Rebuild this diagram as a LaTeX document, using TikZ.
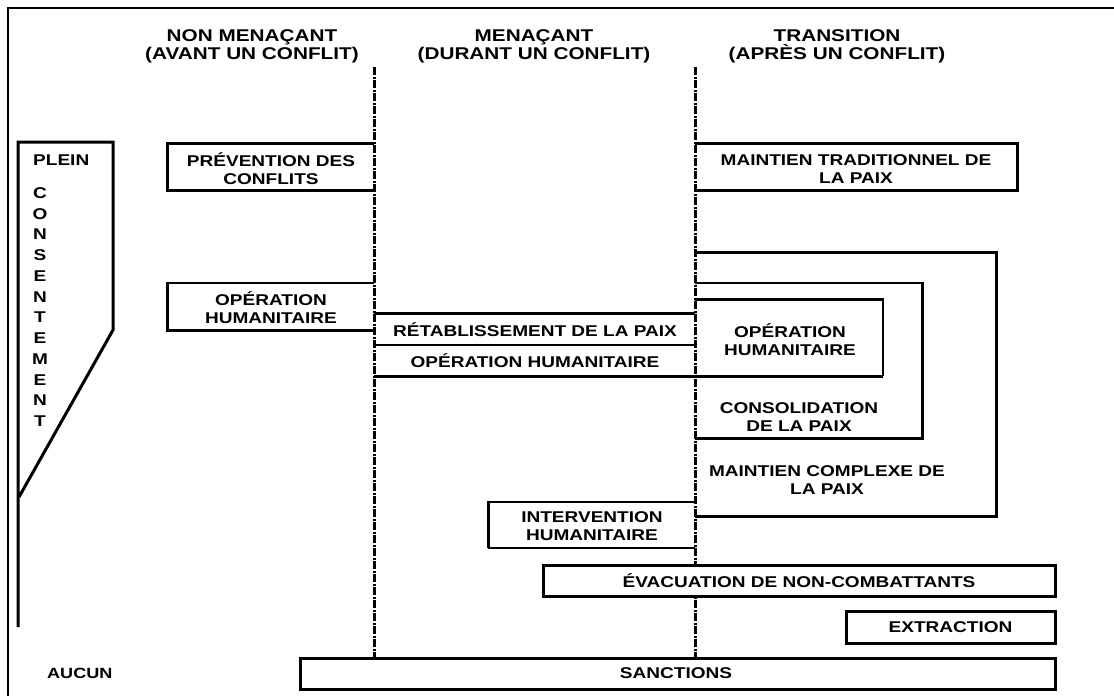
\documentclass[tikz,border=0pt]{standalone}
\usepackage{fontspec}
\setmainfont{Liberation Sans}[FakeStretch=1.22]
\begin{document}
\begin{tikzpicture}[x=1pt,y=-1pt,
  frame/.style={line width=2.2pt},
  divider/.style={line width=3pt,dash pattern=on 8pt off 1.5pt on 2pt off 1.5pt},
  boxline/.style={line width=3pt},
  thinline/.style={line width=1.7pt},
  lbl/.style={inner sep=0pt,align=center,font=\fontsize{15.6}{18}\selectfont\bfseries},
  hdr/.style={inner sep=0pt,align=center,font=\fontsize{17}{18}\selectfont\bfseries},
  closedbox/.style={boxline,draw,fill=white,inner sep=0pt,font=\fontsize{15.6}{18}\selectfont\bfseries}]
\useasboundingbox (0,0) rectangle (1114,696);

% outer frame (top and left only)
\draw[frame] (1114,8) -- (8,8) -- (8,696);

% column headers
\node[hdr] (h1) at (252,46) {NON MENAÇANT\\(AVANT UN CONFLIT)};
\node[hdr] (h2) at (534,46) {MENAÇANT\\(DURANT UN CONFLIT)};
\node[hdr] (h3) at (837,46) {TRANSITION\\(APRÈS UN CONFLIT)};

% column dividers
\coordinate (d1t) at (374,67); \coordinate (d1b) at (374,658);
\coordinate (d2t) at (695,67); \coordinate (d2b) at (695,658);
\draw[divider] (d1t) -- (d1b);
\draw[divider] (d2t) -- (d2b);

% consent scale
\draw[boxline,line join=miter] (18,627) -- (18,142) -- (113,142) -- (113,330) -- (19,497);
\node[lbl,anchor=west] (plein) at (33,160) {PLEIN};
\foreach \l [count=\i] in {C,O,N,S,E,N,T,E,M,E,N,T}
  \node[lbl] (c\i) at ({40},{193+20.75*(\i-1)}) {\l};
\node[lbl,anchor=west,font=\fontsize{14.8}{18}\selectfont\bfseries] (aucun) at (47,673) {AUCUN};

% non-threatening column
\draw[boxline] (374,143) -- (167,143) -- (167,190) -- (374,190);
\node[lbl] (prev) at (271,169) {PRÉVENTION DES\\CONFLITS};
\draw[thinline] (374,283) -- (167,283);
\draw[boxline] (167,282) -- (167,330) -- (374,330);
\node[lbl] (humL) at (271,308) {OPÉRATION\\HUMANITAIRE};

% threatening column
\draw[boxline] (374,313) -- (695,313);
\draw[thinline] (374,345) -- (695,345);
\draw[boxline] (374,376) -- (695,376);
\node[lbl] (retab) at (535,330) {RÉTABLISSEMENT DE LA PAIX};
\node[lbl] (humM) at (535,361) {OPÉRATION HUMANITAIRE};
\draw[thinline] (695,502) -- (488,502);
\draw[boxline] (488,501) -- (488,548);
\draw[thinline] (488,548) -- (695,548);
\node[lbl] (interv) at (592,526) {INTERVENTION\\HUMANITAIRE};

% transition column
\draw[boxline] (695,143) -- (1017,143) -- (1017,190) -- (695,190);
\node[lbl] (trad) at (856,169) {MAINTIEN TRADITIONNEL DE\\LA PAIX};
\draw[boxline] (695,252) -- (996,252) -- (996,516) -- (695,516);
\node[lbl] (complexe) at (827,480) {MAINTIEN COMPLEXE DE\\LA PAIX};
\draw[thinline] (695,283) -- (922,283);
\draw[boxline] (922,282) -- (922,438) -- (695,438);
\node[lbl] (consol) at (799,417) {CONSOLIDATION\\DE LA PAIX};
\draw[boxline] (695,299) -- (883,299);
\draw[thinline] (883,298) -- (883,376);
\draw[boxline] (883,376) -- (695,376);
\node[lbl] (humR) at (790,340) {OPÉRATION\\HUMANITAIRE};

% operations across all situations
\node[closedbox,minimum width=512pt,minimum height=31pt] (evac) at (799,580.5) {ÉVACUATION DE NON-COMBATTANTS};
\node[closedbox,minimum width=209pt,minimum height=32pt] (extr) at (950.5,627) {EXTRACTION};
\node[closedbox,minimum width=755pt,minimum height=31pt] (sanc) at (677.5,673.5) {};
\node[lbl] (sanctxt) at (676,673) {SANCTIONS};
\end{tikzpicture}
\end{document}
